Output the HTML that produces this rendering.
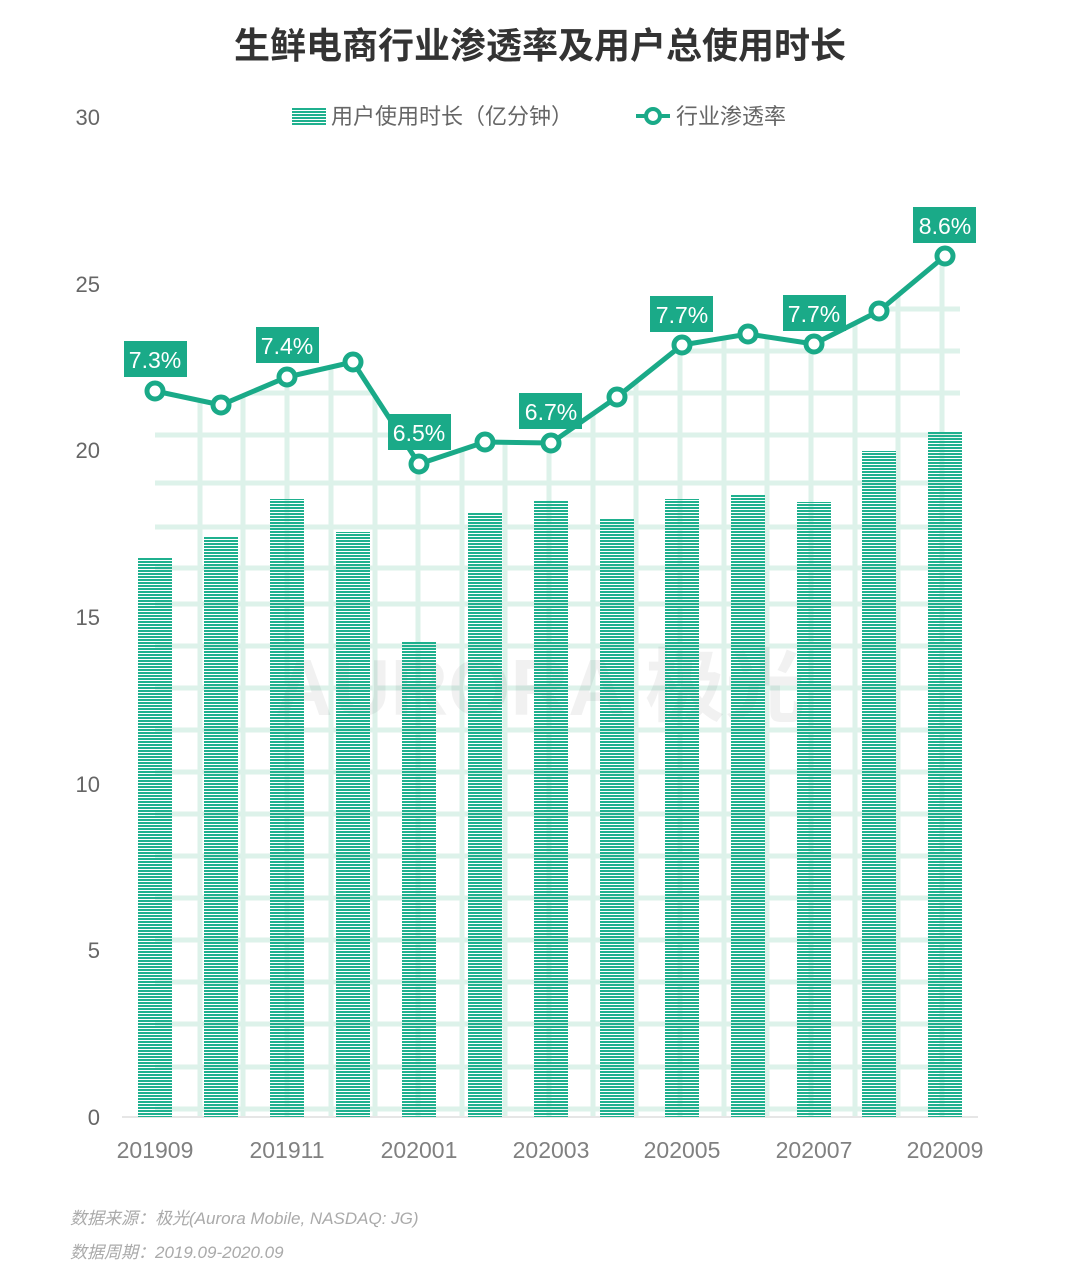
<!DOCTYPE html>
<html><head><meta charset="utf-8"><style>
body{margin:0;background:#fff;}
svg{display:block;font-family:"Liberation Sans","Noto Sans CJK SC",sans-serif;}
</style></head><body>
<svg width="1080" height="1267" viewBox="0 0 1080 1267">
<defs>
<pattern id="st" width="10" height="3" patternUnits="userSpaceOnUse"><rect width="10" height="2" fill="#1fb08e"/></pattern>
<clipPath id="cl"><polygon points="155,391 221,405 287,377 353,362 419,464 485,442 551,443 617,397 682,345 748,334 814,344 879,311 945,256 960,256 960,1117 155,1117"/></clipPath>
</defs>
<text x="540" y="58" text-anchor="middle" font-size="36" font-weight="bold" fill="#333">生鲜电商行业渗透率及用户总使用时长</text>
<g fill="#666" font-size="22" text-anchor="end">
<text x="100" y="125">30</text><text x="100" y="292">25</text><text x="100" y="458">20</text><text x="100" y="625">15</text><text x="100" y="792">10</text><text x="100" y="958">5</text><text x="100" y="1125">0</text>
</g>
<rect x="292" y="107" width="34" height="18" fill="url(#st)"/>
<text x="331" y="124" font-size="22" fill="#666">用户使用时长（亿分钟）</text>
<line x1="636" y1="116" x2="670" y2="116" stroke="#1aaa88" stroke-width="4"/>
<circle cx="653" cy="116" r="7" fill="#fff" stroke="#1aaa88" stroke-width="4"/>
<text x="676" y="124" font-size="22" fill="#666">行业渗透率</text>
<g clip-path="url(#cl)" stroke="#ddf2ea" stroke-width="5">
<line x1="155" x2="960" y1="1109" y2="1109"/><line x1="155" x2="960" y1="1067" y2="1067"/><line x1="155" x2="960" y1="1024" y2="1024"/><line x1="155" x2="960" y1="982" y2="982"/><line x1="155" x2="960" y1="940" y2="940"/><line x1="155" x2="960" y1="898" y2="898"/><line x1="155" x2="960" y1="856" y2="856"/><line x1="155" x2="960" y1="814" y2="814"/><line x1="155" x2="960" y1="772" y2="772"/><line x1="155" x2="960" y1="730" y2="730"/><line x1="155" x2="960" y1="688" y2="688"/><line x1="155" x2="960" y1="646" y2="646"/><line x1="155" x2="960" y1="604" y2="604"/><line x1="155" x2="960" y1="568" y2="568"/><line x1="155" x2="960" y1="527" y2="527"/><line x1="155" x2="960" y1="483" y2="483"/><line x1="155" x2="960" y1="435" y2="435"/><line x1="155" x2="960" y1="393" y2="393"/><line x1="155" x2="960" y1="351" y2="351"/><line x1="155" x2="960" y1="309" y2="309"/>
<line x1="200" x2="200" y1="250" y2="1117"/><line x1="243" x2="243" y1="250" y2="1117"/><line x1="287" x2="287" y1="250" y2="1117"/><line x1="331" x2="331" y1="250" y2="1117"/><line x1="375" x2="375" y1="250" y2="1117"/><line x1="418" x2="418" y1="250" y2="1117"/><line x1="462" x2="462" y1="250" y2="1117"/><line x1="505" x2="505" y1="250" y2="1117"/><line x1="549" x2="549" y1="250" y2="1117"/><line x1="593" x2="593" y1="250" y2="1117"/><line x1="636" x2="636" y1="250" y2="1117"/><line x1="680" x2="680" y1="250" y2="1117"/><line x1="724" x2="724" y1="250" y2="1117"/><line x1="767" x2="767" y1="250" y2="1117"/><line x1="811" x2="811" y1="250" y2="1117"/><line x1="855" x2="855" y1="250" y2="1117"/><line x1="898" x2="898" y1="250" y2="1117"/><line x1="942" x2="942" y1="250" y2="1117"/>
</g>
<text x="540" y="715" text-anchor="middle" font-size="80" font-weight="bold" fill="#000" opacity="0.05">AURORA 极光</text>
<line x1="122" x2="978" y1="1117" y2="1117" stroke="#e6e6e6" stroke-width="2"/>
<g fill="url(#st)">
<rect x="138" y="557" width="34" height="560"/>
<rect x="204" y="536" width="34" height="581"/>
<rect x="270" y="499" width="34" height="618"/>
<rect x="336" y="532" width="34" height="585"/>
<rect x="402" y="641" width="34" height="476"/>
<rect x="468" y="513" width="34" height="604"/>
<rect x="534" y="500" width="34" height="617"/>
<rect x="600" y="518" width="34" height="599"/>
<rect x="665" y="499" width="34" height="618"/>
<rect x="731" y="494" width="34" height="623"/>
<rect x="797" y="502" width="34" height="615"/>
<rect x="862" y="451" width="34" height="666"/>
<rect x="928" y="431" width="34" height="686"/>
</g>
<polyline points="155,391 221,405 287,377 353,362 419,464 485,442 551,443 617,397 682,345 748,334 814,344 879,311 945,256" fill="none" stroke="#1aaa88" stroke-width="5"/>
<g fill="#fff" stroke="#1aaa88" stroke-width="5">
<circle cx="155" cy="391" r="8"/><circle cx="221" cy="405" r="8"/><circle cx="287" cy="377" r="8"/><circle cx="353" cy="362" r="8"/><circle cx="419" cy="464" r="8"/><circle cx="485" cy="442" r="8"/><circle cx="551" cy="443" r="8"/><circle cx="617" cy="397" r="8"/><circle cx="682" cy="345" r="8"/><circle cx="748" cy="334" r="8"/><circle cx="814" cy="344" r="8"/><circle cx="879" cy="311" r="8"/><circle cx="945" cy="256" r="8"/>
</g>
<g fill="#1aaa88">
<rect x="124" y="341" width="63" height="36"/><rect x="256" y="327" width="63" height="36"/><rect x="388" y="414" width="63" height="36"/><rect x="519" y="393" width="63" height="36"/><rect x="650" y="296" width="63" height="36"/><rect x="783" y="295" width="63" height="36"/><rect x="913" y="207" width="63" height="36"/>
</g>
<g fill="#fff" font-size="23" text-anchor="middle">
<text x="155" y="368">7.3%</text><text x="287" y="354">7.4%</text><text x="419" y="441">6.5%</text><text x="551" y="420">6.7%</text><text x="682" y="323">7.7%</text><text x="814" y="322">7.7%</text><text x="945" y="234">8.6%</text>
</g>
<g fill="#808080" font-size="23" text-anchor="middle">
<text x="155" y="1158">201909</text><text x="287" y="1158">201911</text><text x="419" y="1158">202001</text><text x="551" y="1158">202003</text><text x="682" y="1158">202005</text><text x="814" y="1158">202007</text><text x="945" y="1158">202009</text>
</g>
<g fill="#aaa" font-size="17" font-style="italic">
<text x="70" y="1224">数据来源：极光(Aurora Mobile, NASDAQ: JG)</text>
<text x="70" y="1258">数据周期：2019.09-2020.09</text>
</g>
</svg>
</body></html>
